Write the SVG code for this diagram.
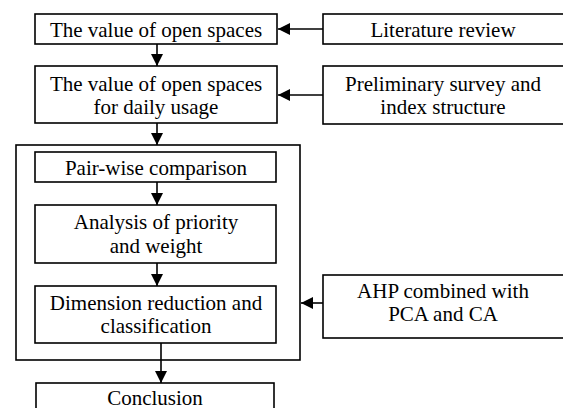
<svg xmlns="http://www.w3.org/2000/svg" width="563" height="408" viewBox="0 0 563 408">
<style>
.b{fill:#fff;stroke:#000;stroke-width:1.6}
.o{fill:none;stroke:#000;stroke-width:1.6}
.t{font-family:"Liberation Serif","Times New Roman",serif;font-size:21px;fill:#000;text-anchor:middle}
.c{stroke:#000;stroke-width:1.6;fill:none;marker-end:url(#ah)}
</style>
<defs>
<marker id="ah" markerUnits="userSpaceOnUse" markerWidth="13" markerHeight="12" refX="12" refY="6" orient="auto">
<path d="M0,0 L12,6 L0,12 Z" fill="#000"/>
</marker>
</defs>
<rect id="outer" class="o" x="16" y="145" width="284" height="215"/>
<g id="n1"><rect class="b" x="35" y="14" width="242" height="30"/><text class="t" x="156" y="37">The value of open spaces</text></g>
<g id="n2"><rect class="b" x="35" y="66" width="242" height="57"/><text class="t" x="156" y="91">The value of open spaces</text><text class="t" x="156" y="114">for daily usage</text></g>
<g id="r1"><rect class="b" x="323" y="14" width="242" height="30"/><text class="t" x="443" y="37">Literature review</text></g>
<g id="r2"><rect class="b" x="323" y="66" width="242" height="58"/><text class="t" x="443" y="91">Preliminary survey and</text><text class="t" x="443" y="114">index structure</text></g>
<g id="n3"><rect class="b" x="35" y="152" width="241" height="30"/><text class="t" x="156" y="175">Pair-wise comparison</text></g>
<g id="n4"><rect class="b" x="35" y="205" width="241" height="58"/><text class="t" x="156" y="229">Analysis of priority</text><text class="t" x="156" y="253">and weight</text></g>
<g id="n5"><rect class="b" x="35" y="286" width="241" height="57"/><text class="t" x="156" y="310">Dimension reduction and</text><text class="t" x="156" y="333">classification</text></g>
<g id="r3"><rect class="b" x="323" y="275" width="242" height="63"/><text class="t" x="443" y="298">AHP combined with</text><text class="t" x="443" y="321">PCA and CA</text></g>
<g id="n6"><rect class="b" x="36" y="383" width="238" height="30"/><text class="t" x="155" y="405">Conclusion</text></g>
<g id="connectors">
<line class="c" x1="157" y1="44" x2="157" y2="66"/>
<line class="c" x1="157" y1="123" x2="157" y2="145"/>
<line class="c" x1="157" y1="182" x2="157" y2="205"/>
<line class="c" x1="157" y1="263" x2="157" y2="286"/>
<line class="c" x1="161" y1="343" x2="161" y2="383"/>
<line class="c" x1="323" y1="29" x2="278" y2="29"/>
<line class="c" x1="323" y1="95" x2="278" y2="95"/>
<line class="c" x1="323" y1="303" x2="301" y2="303"/>
</g>
</svg>
